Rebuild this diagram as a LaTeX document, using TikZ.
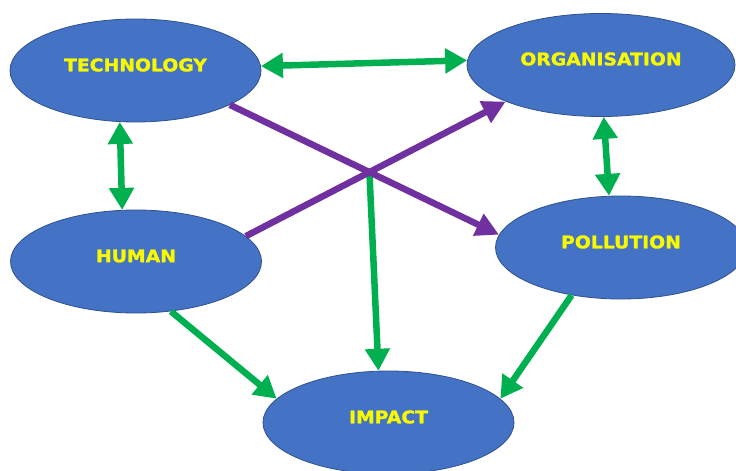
\documentclass[tikz,border=0pt]{standalone}
\usepackage{fontspec}
\newfontfamily\lblfont[FakeStretch=1.08,BoldFeatures={FakeBold=1.6}]{DejaVu Sans}
\usetikzlibrary{shapes.geometric,arrows.meta}
\definecolor{ebl}{HTML}{4472C4}
\definecolor{edgeblue}{HTML}{2F528F}
\definecolor{grn}{HTML}{00B050}
\definecolor{pur}{HTML}{7030A0}
\definecolor{lblyellow}{HTML}{F8F800}
\begin{document}
\begin{tikzpicture}[x=1pt,y=-1pt,
  blob/.style={ellipse, fill=ebl, draw=edgeblue, line width=0.8pt, inner sep=0pt,
    minimum width=251pt, minimum height=103pt},
  lbl/.style={text=lblyellow, inner sep=0pt, yshift=5.5pt,
    font=\lblfont\bfseries\fontsize{17.4}{20}\selectfont},
  gtip/.tip={Triangle[width=24pt,length=22pt]},
  ptip/.tip={Triangle[width=23pt,length=23pt]},
  gone/.style={draw=grn, line width=6.5pt, -gtip},
  gtwo/.style={draw=grn, line width=6.5pt, gtip-gtip},
  pone/.style={draw=pur, line width=6.5pt, -ptip}
]
\useasboundingbox (0,0) rectangle (736,471);
\clip (0,0) rectangle (736,471);
\fill[white] (0,0) rectangle (736,471);

\node[blob, label={[lbl]center:TECHNOLOGY}] (tech) at (135.5,70.5) {};
\node[blob, minimum width=268pt, label={[lbl,yshift=0.5pt]center:ORGANISATION}] (org) at (601,65) {};
\node[blob, label={[lbl]center:HUMAN}] (human) at (136,261.5) {};
\node[blob, label={[lbl]center:POLLUTION}] (poll) at (621,247.5) {};
\node[blob, label={[lbl]center:IMPACT}] (impact) at (388.5,422.5) {};

\coordinate (cross) at (intersection of tech.340.3--poll.174 and human.13.8--org.201.3);

\draw[gtwo] (tech.2) -- (org.178.3);
\draw[gtwo] (tech.253) -- (human.105.8);
\draw[gtwo] (org.273.3) -- (poll.103);
\draw[gone] (cross) -- (impact.101.5);
\draw[gone] (human.305.5) -- (impact.168.6);
\draw[gone] (poll.224.7) -- (impact.12);
\draw[pone] (tech.340.3) -- (poll.174);
\draw[pone] (human.13.8) -- (org.201.3);
\end{tikzpicture}
\end{document}
